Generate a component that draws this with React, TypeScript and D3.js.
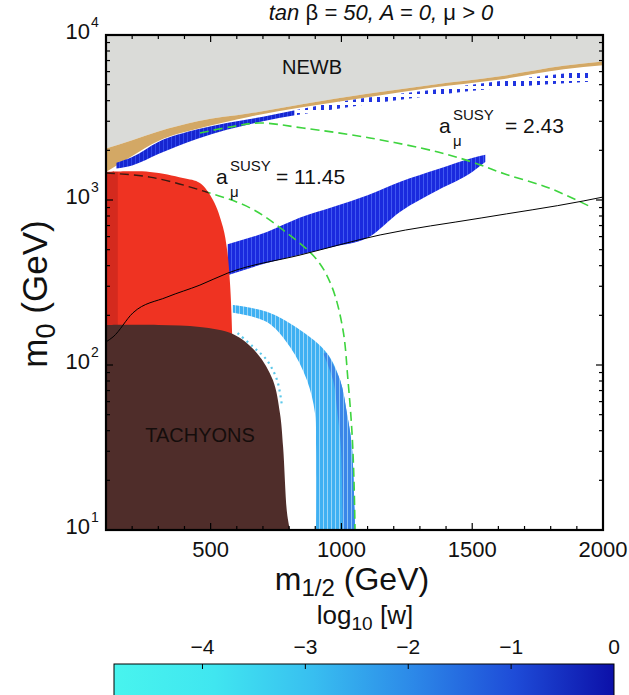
import React from "react";
import * as d3 from "d3";

// ---------- axes ----------
const X_DOMAIN: [number, number] = [100, 2000];
const Y_DOMAIN: [number, number] = [10, 10000];
const xMajorTicks = [500, 1000, 1500, 2000];
const yDecadeExps = [1, 2, 3, 4];
const cbDomain: [number, number] = [-4.86, 0];
const cbTicks = [-4, -3, -2, -1, 0];
const cbStopPos = [0, 0.2, 0.4, 0.6, 0.8, 1];
const cbStopColors = ["#48f4ee", "#40e6f0", "#38bef0", "#2c88e8", "#1e4cd8", "#0c10a8"];

// ---------- NEWB boundary and stau (tan) band ----------
const gridM12 = [100, 200, 300, 450, 650, 850, 1100, 1350, 1600, 1850, 2000];
const newbM0 = [2050, 2300, 2600, 3000, 3350, 3800, 4400, 5000, 5600, 6500, 6900];
const tanLowM0 = [1480, 1850, 2280, 2700, 3200, 3650, 4200, 4800, 5350, 6200, 6550];

// ---------- top (focus-point) band of points ----------
const topBandM12 = [140, 200, 300, 450, 700, 1000, 1350, 1600, 1950];
const topBandHi = [1680, 1820, 2250, 2680, 3200, 3950, 4650, 5250, 6100];
const topBandLo = [1550, 1620, 1900, 2350, 3000, 3600, 4300, 4750, 5200];
const topBandDenseEnd = 820;

// ---------- middle (funnel) band ----------
const midM12 = [565, 715, 840, 970, 1100, 1225, 1370, 1500, 1550];
const midHi = [540, 640, 780, 910, 1070, 1290, 1540, 1800, 1880];
const midLo = [350, 415, 465, 520, 590, 850, 1150, 1480, 1700];

// ---------- light-blue arc band (outline) ----------
const arcOuter: [number, number][] = [[585, 231], [715, 210], [842, 163], [945, 118], [995, 81], [1021, 51], [1040, 32], [1052, 10]];
const arcInner: [number, number][] = [[585, 207], [715, 182], [803, 129], [868, 81], [899, 51], [903, 32], [903, 10]];
const arcDarkOuter: [number, number][] = [[945, 118], [995, 81], [1021, 51], [1040, 32], [1052, 10]];
const arcDarkInner: [number, number][] = [[930, 118], [968, 81], [985, 51], [998, 32], [1005, 10]];
const cyanDots: [number, number][] = [[603, 156], [662, 129], [715, 107], [754, 81], [773, 56]];

// ---------- excluded regions ----------
const redEdge: [number, number][] = [[100, 1480], [268, 1480], [394, 1360], [459, 1268], [509, 1000], [547, 686], [563, 498], [574, 314], [582, 156], [582, 100]];
const redDarkM12 = [100, 145];
const tachEdge: [number, number][] = [[100, 175], [300, 175], [459, 170], [585, 154], [677, 118], [738, 81], [765, 51], [777, 32], [792, 12.7], [803, 10]];

// ---------- lines ----------
const blackLine: [number, number][] = [[100, 138], [127, 148], [203, 207], [333, 258], [459, 305], [566, 361], [842, 464], [1148, 614], [1534, 778], [1924, 986], [2000, 1042]];
const contour1145: [number, number][] = [[100, 1459], [268, 1377], [459, 1150], [651, 895], [792, 631], [907, 433], [964, 297], [1006, 163], [1025, 81], [1040, 40], [1048, 20], [1052, 10]];
const contour243: [number, number][] = [[459, 2547], [574, 2770], [685, 2929], [853, 2731], [1109, 2377], [1369, 1953], [1499, 1700], [1625, 1438], [1794, 1183], [1946, 920]];

const FONT = "'Liberation Sans', Arial, Helvetica, sans-serif";

export default function App() {
  const L = 106, R = 603, T = 35, B = 530;
  const x = d3.scaleLinear().domain(X_DOMAIN).range([L, R]);
  const y = d3.scaleLog().domain(Y_DOMAIN).range([B, T]);
  const cbx = d3.scaleLinear().domain(cbDomain).range([114, 614]);

  const lineC = d3.line<[number, number]>().x(d => x(d[0])).y(d => y(d[1])).curve(d3.curveCatmullRom.alpha(0.5));
  const lineM = d3.line<[number, number]>().x(d => x(d[0])).y(d => y(d[1])).curve(d3.curveMonotoneX);

  const areaFrom = (m: number[], lo: (i: number) => number, hi: (i: number) => number) =>
    d3.area<number>().x((_, i) => x(m[i])).y0((_, i) => lo(i)).y1((_, i) => hi(i)).curve(d3.curveMonotoneX)(m);

  const newbPath = areaFrom(gridM12, () => y(Y_DOMAIN[1]), i => y(newbM0[i]));
  const tanPath = areaFrom(gridM12, i => y(newbM0[i]), i => y(tanLowM0[i]));
  const topBandPath = areaFrom(topBandM12, i => y(topBandLo[i]), i => y(topBandHi[i]));
  const midPath = areaFrom(midM12, i => y(midLo[i]), i => y(midHi[i]));

  const closed = (a: [number, number][], b: [number, number][]) =>
    (lineC(a) || "") + (lineC([...b].reverse()) || "").replace(/^M/, "L") + "Z";
  const arcPath = closed(arcOuter, arcInner);
  const arcDarkPath = closed(arcDarkOuter, arcDarkInner);

  const redPath = (lineC(redEdge) || "") + `L${x(X_DOMAIN[0])},${y(redEdge[redEdge.length - 1][1])}Z`;
  const tachPath = (lineC(tachEdge) || "") + `L${x(X_DOMAIN[0])},${y(Y_DOMAIN[0])}Z`;

  const xMinor = d3.range(200, 2000, 100).filter(v => !xMajorTicks.includes(v));
  const yMinor: number[] = [];
  [10, 100, 1000].forEach(d => { for (let k = 2; k <= 9; k++) yMinor.push(k * d); });

  const tickStyle = { stroke: "#000", strokeWidth: 1.2 };

  return (
    <svg width={629} height={695} style={{ position: "absolute", left: 0, top: 0, background: "#fff" }} fontFamily={FONT}>
      <defs>
        <clipPath id="plotClip"><rect x={L} y={T} width={R - L} height={B - T} /></clipPath>
        <clipPath id="redClip"><path d={redPath} /></clipPath>
        <clipPath id="denseClip"><rect x={L} y={T} width={x(topBandDenseEnd) - L} height={B - T} /></clipPath>
        <clipPath id="sparseClip"><rect x={x(topBandDenseEnd)} y={T} width={R - x(topBandDenseEnd)} height={B - T} /></clipPath>
        <pattern id="pDense" width={4} height={4} patternUnits="userSpaceOnUse">
          <rect width={4} height={4} fill="#3048ea" />
          <rect width={3} height={4} fill="#1626d0" />
        </pattern>
        <pattern id="pMid" width={4} height={4} patternUnits="userSpaceOnUse">
          <rect width={4} height={4} fill="#4058f0" />
          <rect width={3} height={4} fill="#1a2ade" />
        </pattern>
        <pattern id="pSparse" width={8} height={8} patternUnits="userSpaceOnUse">
          <rect x={1} y={1} width={3} height={5} fill="#2034e0" />
        </pattern>
        <pattern id="pLight" width={4} height={4} patternUnits="userSpaceOnUse">
          <rect width={4} height={4} fill="#9ad6f8" />
          <rect width={3} height={4} fill="#3fb0f2" />
        </pattern>
        <pattern id="pArcDark" width={4} height={4} patternUnits="userSpaceOnUse">
          <rect width={4} height={4} fill="#8cc4f4" />
          <rect width={3} height={4} fill="#3a86e8" />
        </pattern>
        <linearGradient id="cbGrad" x1="0" x2="1" y1="0" y2="0">
          {cbStopPos.map((p, i) => <stop key={i} offset={p} stopColor={cbStopColors[i]} />)}
        </linearGradient>
      </defs>

      {/* title */}
      <text x={381} y={20} textAnchor="middle" fontSize={22} fill="#111">
        <tspan fontStyle="italic">tan </tspan><tspan>β</tspan><tspan fontStyle="italic"> = 50, A = 0, </tspan><tspan>μ</tspan><tspan fontStyle="italic"> &gt; 0</tspan>
      </text>

      <g clipPath="url(#plotClip)">
        <path d={newbPath || ""} fill="#dadbd8" />
        <path d={tanPath || ""} fill="#d3a865" />
        <path d={topBandPath || ""} fill="url(#pDense)" clipPath="url(#denseClip)" />
        <g clipPath="url(#sparseClip)"><path d={topBandPath || ""} fill="url(#pSparse)" /></g>
        <path d={midPath || ""} fill="url(#pMid)" />
        <path d={arcPath} fill="url(#pLight)" />
        <path d={arcDarkPath} fill="url(#pArcDark)" />
        <path d={lineC(cyanDots) || ""} fill="none" stroke="#5cc8ea" strokeWidth={2.2} strokeDasharray="2 4" />
        <path d={lineC(contour243) || ""} fill="none" stroke="#3ed43e" strokeWidth={1.6} strokeDasharray="9 5" />
        <path d={lineC(contour1145) || ""} fill="none" stroke="#3ed43e" strokeWidth={1.6} strokeDasharray="9 5" />
        <path d={redPath} fill="#ef3322" />
        <rect x={x(redDarkM12[0])} y={y(redEdge[0][1])} width={x(redDarkM12[1]) - x(redDarkM12[0])} height={y(100) - y(redEdge[0][1])} fill="#d42a1e" clipPath="url(#redClip)" />
        <path d={tachPath} fill="#4f2d2a" />
        <path d={lineM(blackLine) || ""} fill="none" stroke="#000" strokeWidth={1} />
        <g clipPath="url(#redClip)">
          <path d={lineC(contour1145) || ""} fill="none" stroke="#3a1a12" strokeWidth={1.4} strokeDasharray="9 5" />
        </g>
      </g>

      {/* region labels */}
      <text x={312} y={74} textAnchor="middle" fontSize={20} fill="#111">NEWB</text>
      <text x={200} y={442} textAnchor="middle" fontSize={20} fill="#150d0c">TACHYONS</text>

      <g fill="#111">
        <text x={216} y={184} fontSize={21}>a</text>
        <text x={230} y={171} fontSize={15}>SUSY</text>
        <text x={230} y={197} fontSize={15}>μ</text>
        <text x={276} y={184} fontSize={21}>= 11.45</text>

        <text x={439} y={133} fontSize={21}>a</text>
        <text x={453} y={120} fontSize={15}>SUSY</text>
        <text x={453} y={146} fontSize={15}>μ</text>
        <text x={505} y={133} fontSize={21}>= 2.43</text>
      </g>

      {/* frame and ticks */}
      <g>
        {xMajorTicks.filter(v => v < X_DOMAIN[1]).map(v => (
          <g key={"xM" + v}>
            <line x1={x(v)} x2={x(v)} y1={B} y2={B - 7} {...tickStyle} />
            <line x1={x(v)} x2={x(v)} y1={T} y2={T + 7} {...tickStyle} />
          </g>
        ))}
        {xMinor.map(v => (
          <g key={"xm" + v}>
            <line x1={x(v)} x2={x(v)} y1={B} y2={B - 4} {...tickStyle} />
            <line x1={x(v)} x2={x(v)} y1={T} y2={T + 4} {...tickStyle} />
          </g>
        ))}
        {yDecadeExps.map(e => (
          <g key={"yM" + e}>
            <line x1={L} x2={L + 7} y1={y(10 ** e)} y2={y(10 ** e)} {...tickStyle} />
            <line x1={R} x2={R - 7} y1={y(10 ** e)} y2={y(10 ** e)} {...tickStyle} />
          </g>
        ))}
        {yMinor.map(v => (
          <g key={"ym" + v}>
            <line x1={L} x2={L + 4} y1={y(v)} y2={y(v)} {...tickStyle} />
            <line x1={R} x2={R - 4} y1={y(v)} y2={y(v)} {...tickStyle} />
          </g>
        ))}
        <rect x={L} y={T} width={R - L} height={B - T} fill="none" stroke="#000" strokeWidth={2.2} />
      </g>

      {/* tick labels */}
      {xMajorTicks.map(v => (
        <text key={"xl" + v} x={x(v)} y={557} textAnchor="middle" fontSize={22} fill="#111">{v}</text>
      ))}
      {yDecadeExps.map(e => (
        <g key={"yl" + e} fill="#111">
          <text x={90} y={y(10 ** e) + 4} textAnchor="end" fontSize={22}>10</text>
          <text x={91} y={y(10 ** e) - 8} fontSize={14}>{e}</text>
        </g>
      ))}

      {/* axis labels */}
      <text x={352} y={590} textAnchor="middle" fontSize={32} fill="#111">
        <tspan>m</tspan><tspan dy={6} fontSize={24}>1/2</tspan><tspan dy={-6}> (GeV)</tspan>
      </text>
      <text transform="translate(47,294) rotate(-90)" textAnchor="middle" fontSize={35} fill="#111">
        <tspan>m</tspan><tspan dy={8} fontSize={27}>0</tspan><tspan dy={-8}> (GeV)</tspan>
      </text>

      {/* colorbar */}
      <text x={365} y={624} textAnchor="middle" fontSize={26} fill="#111">
        <tspan>log</tspan><tspan dy={6} fontSize={19}>10</tspan><tspan dy={-6}> [w]</tspan>
      </text>
      {cbTicks.map(t => (
        <text key={"cb" + t} x={cbx(t)} y={654} textAnchor="middle" fontSize={21} fill="#111">{t < 0 ? "\u2212" + Math.abs(t) : t}</text>
      ))}
      <rect x={cbx(cbDomain[0])} y={664} width={cbx(cbDomain[1]) - cbx(cbDomain[0])} height={40} fill="url(#cbGrad)" stroke="#000" strokeWidth={1} />
      {cbTicks.filter(t => t < 0).map(t => (
        <line key={"cbt" + t} x1={cbx(t)} x2={cbx(t)} y1={664} y2={669} stroke="#000" strokeWidth={1} />
      ))}
    </svg>
  );
}
